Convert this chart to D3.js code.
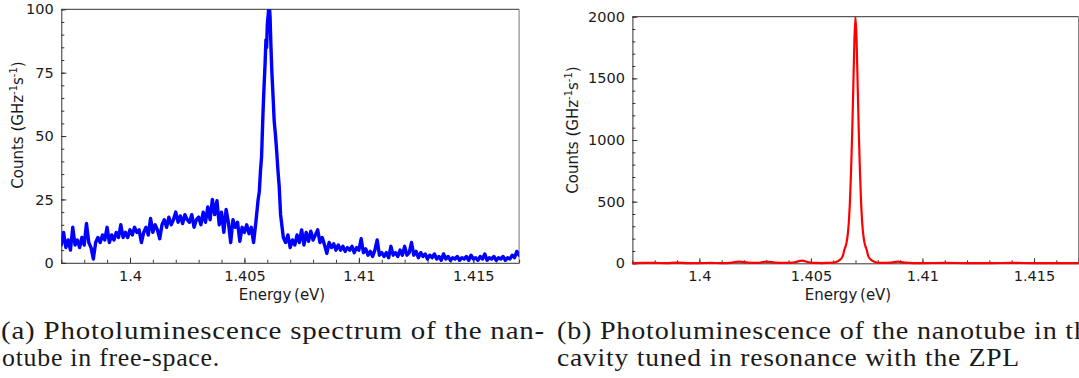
<!DOCTYPE html>
<html><head><meta charset="utf-8">
<script src="https://cdn.jsdelivr.net/npm/d3@7/dist/d3.min.js"></script>
<style>
html,body{margin:0;padding:0;background:#fff;}
svg{display:block;}
.tick text{font-family:"DejaVu Sans",sans-serif;font-size:14.5px;fill:#1a1a1a;}
.lbl{font-family:"DejaVu Sans",sans-serif;font-size:15px;fill:#1a1a1a;}
.cap{font-family:"Liberation Serif",serif;font-size:25px;fill:#1a1a1a;letter-spacing:0.7px;}
</style></head>
<body>
<svg id="chart" width="1079" height="378"></svg>
<script>
// ---------- data ----------
const xTicks = [1.4, 1.405, 1.41, 1.415];
const xTickLabels = ["1.4", "1.405", "1.41", "1.415"];
const freeSpaceYTicks = [0, 25, 50, 75, 100];
const cavityYTicks = [0, 500, 1000, 1500, 2000];

const freeSpaceEnergy = [
1.3970,1.3971,1.3972,1.3973,1.3974,1.3975,1.3976,1.3977,1.3978,1.3979,
1.3980,1.3981,1.3982,1.3983,1.3984,1.3985,1.3986,1.3987,1.3988,1.3989,
1.3990,1.3991,1.3992,1.3993,1.3994,1.3995,1.3996,1.3997,1.3998,1.3999,
1.4000,1.4001,1.4002,1.4003,1.4004,1.4005,1.4006,1.4007,1.4008,1.4009,
1.4010,1.4011,1.4012,1.4013,1.4014,1.4015,1.4016,1.4017,1.4018,1.4019,
1.4020,1.4021,1.4022,1.4023,1.4024,1.4025,1.4026,1.4027,1.4028,1.4029,
1.4030,1.4031,1.4032,1.4033,1.4034,1.4035,1.4036,1.4037,1.4038,1.4039,
1.4040,1.4041,1.4042,1.4043,1.4044,1.4045,1.4046,1.4047,1.4048,1.4049,
1.4050,1.4051,1.4052,1.4053,1.4054,1.4055,
1.4056,1.40565,1.4057,1.40575,1.4058,1.40582,1.40586,1.4059,1.40594,1.40597,
1.4060,1.40604,1.40608,1.40612,1.40616,1.4062,1.40626,1.4063,1.40636,1.40641,
1.40646,1.40652,1.40658,1.40662,1.40666,1.4067,
1.4068,1.4069,1.4070,1.4071,1.4072,1.4073,1.4074,1.4075,1.4076,1.4077,
1.4078,1.4079,1.4080,1.4081,1.4082,1.4083,1.4084,1.4085,1.4086,1.4087,
1.4088,1.4089,1.4090,1.4091,1.4092,1.4093,1.4094,1.4095,1.4096,1.4097,
1.4098,1.4099,1.4100,1.4101,1.4102,1.4103,1.4104,1.4105,1.4106,1.4107,
1.4108,1.4109,1.4110,1.4111,1.4112,1.4113,1.4114,1.4115,1.4116,1.4117,
1.4118,1.4119,1.4120,1.4121,1.4122,1.4123,1.4124,1.4125,1.4126,1.4127,
1.4128,1.4129,1.4130,1.4131,1.4132,1.4133,1.4134,1.4135,1.4136,1.4137,
1.4138,1.4139,1.4140,1.4141,1.4142,1.4143,1.4144,1.4145,1.4146,1.4147,
1.4148,1.4149,1.4150,1.4151,1.4152,1.4153,1.4154,1.4155,1.4156,1.4157,
1.4158,1.4159,1.4160,1.4161,1.4162,1.4163,1.4164,1.4165,1.4166,1.4167,
1.4168,1.4169,1.4170
];
const freeSpaceCounts = [
7,12,6,9,5,14,7,9,6,10,
7,15.5,8,6,1.5,8,10,8,11,9,
14,8,11,9,12,10,15,10,12,10,
13,11,14,12,13,8,12,14,11,17.5,
12,15,13,9.5,15,17,14,18,15,17,
20,16,18.5,15.5,19,17,16,19,14,17,
18,15,20,16,22,17,25,19,24.5,15,
20,12,21,16,8,17,14,16,8.5,14,
12,15,11.5,14,8,16,
25,28,36,42,56,61,70,78,88,85,
94,98,103,97,85,75,64,56,50,44,
37,30,19,16,13,10,
8,11,6,9,7,11,8,13,7,12,
8.5,12.5,9,11,13,8,10,7,3.7,8,
6,7.5,5,7,5,6.5,4.5,6,5,6.5,
4,6,5,9.5,4,5.5,3,4.5,2.5,5,
9,3,4,2.5,4,2,6.5,3,4,2.5,
5,3,6.5,3,4,8,3,4.5,2,4,
2.5,3.5,1.5,3,2,3.5,1.5,2.5,1,3.5,
1.5,2.5,1,2,1.5,2.5,1,2,1.5,2.5,
1,3,1.5,2,1,2.5,1.5,3.5,1,2,
1.5,2.5,1,2,1.5,2.5,1,2,1.5,3,
2,4.5,3
];

const cavityEnergy = [
1.3970,1.3980,1.3985,1.3990,1.3995,1.4000,1.4005,1.4010,1.4014,1.4018,
1.4022,1.4026,1.4030,1.4034,1.4038,1.4042,1.4046,1.4049,1.4052,1.4055,
1.4058,1.4060,1.4061,1.4062,1.4063,1.4064,1.40645,1.4065,1.40655,1.4066,
1.40665,1.4067,1.40675,1.4068,1.40685,1.4069,1.40695,1.4070,1.40705,1.4071,
1.40715,1.4072,1.40725,1.4073,1.40735,1.4074,1.40745,1.4075,1.40755,1.4076,
1.4077,1.4078,1.4079,1.4080,1.4082,1.4086,1.4089,1.4092,1.4096,1.4100,
1.4110,1.4120,1.4130,1.4140,1.4150,1.4160,1.4170
];
const cavityCounts = [
2,3,2,5,2,2,3,2,4,14,
5,3,13,5,3,6,22,8,3,2,
4,5,9,16,28,48,72,110,135,170,
230,330,500,740,1050,1420,1800,2000,1800,1420,
1050,740,500,330,230,170,135,110,72,48,
28,16,9,5,3,6,14,5,2,2,
3,2,2,3,2,2,2
];

// ---------- layout ----------
const svg = d3.select("#chart");
svg.append("rect").attr("width",1079).attr("height",378).attr("fill","#fff");

function panel(cfg){
  const x = d3.scaleLinear().domain([1.397, 1.417]).range([cfg.x0, cfg.x1]);
  const y = d3.scaleLinear().domain([0, cfg.yMax]).range([cfg.y0, cfg.y1]);
  const g = svg.append("g");
  const clipId = "clip" + cfg.id;
  svg.append("clipPath").attr("id", clipId).append("rect")
    .attr("x", cfg.x0).attr("y", cfg.y1).attr("width", cfg.x1 - cfg.x0).attr("height", cfg.y0 - cfg.y1 + 4);

  g.append("line").attr("x1",cfg.x0).attr("x2",cfg.x1).attr("y1",cfg.y1).attr("y2",cfg.y1)
    .attr("stroke","#333").attr("stroke-width",1);
  g.append("line").attr("x1",cfg.x1).attr("x2",cfg.x1).attr("y1",cfg.y1).attr("y2",cfg.y0)
    .attr("stroke","#777").attr("stroke-width",1);

  const xMinor = d3.range(1.397, 1.4171, 0.001);
  g.append("g").attr("transform",`translate(0,${cfg.y0})`)
    .call(d3.axisBottom(x).tickValues(xMinor).tickSize(-3).tickSizeOuter(0).tickFormat(""))
    .call(a=>a.select(".domain").remove()).call(a=>a.selectAll("line").attr("stroke","#333"));
  const yMinor = d3.range(0, cfg.yMax + 1e-9, cfg.yMinorStep);
  g.append("g").attr("transform",`translate(${cfg.x0},0)`)
    .call(d3.axisLeft(y).tickValues(yMinor).tickSize(-3).tickSizeOuter(0).tickFormat(""))
    .call(a=>a.select(".domain").remove()).call(a=>a.selectAll("line").attr("stroke","#333"));

  g.append("g").attr("transform",`translate(0,${cfg.y0})`)
    .call(d3.axisBottom(x).tickValues(xTicks).tickFormat((d,i)=>xTickLabels[i]).tickSize(-5).tickSizeOuter(0).tickPadding(7.5))
    .call(a=>a.select(".domain").attr("stroke","#333"))
    .call(a=>a.selectAll("line").attr("stroke","#333"));
  g.append("g").attr("transform",`translate(${cfg.x0},0)`)
    .call(d3.axisLeft(y).tickValues(cfg.yTicks).tickFormat(d3.format("d")).tickSize(-5).tickSizeOuter(0).tickPadding(7.5))
    .call(a=>a.select(".domain").attr("stroke","#333"))
    .call(a=>a.selectAll("line").attr("stroke","#333"));

  const data = cfg.energy.map((e,i)=>[e, cfg.counts[i]]);
  g.append("path").datum(data)
    .attr("clip-path",`url(#${clipId})`)
    .attr("fill","none").attr("stroke",cfg.color).attr("stroke-width",cfg.lw)
    .attr("stroke-linejoin","round").attr("stroke-linecap","round")
    .attr("d", d3.line().x(d=>x(d[0])).y(d=>y(d[1])).curve(cfg.curve));

  svg.append("text").attr("class","lbl").attr("x",cfg.xLabelX).attr("y",299.5)
    .attr("text-anchor","middle").attr("word-spacing","-2").text("Energy (eV)");
  const yl = svg.append("text").attr("class","lbl")
    .attr("transform",`translate(${cfg.yLabelX},${cfg.yLabelY}) rotate(-90)`)
    .attr("text-anchor","middle");
  yl.append("tspan").text("Counts (GHz");
  yl.append("tspan").attr("font-size","10px").attr("dy","-6").text("-1");
  yl.append("tspan").attr("dy","6").text("s");
  yl.append("tspan").attr("font-size","10px").attr("dy","-6").text("-1");
  yl.append("tspan").attr("dy","6").text(")");
}

panel({id:"a", x0:61.3, x1:519.1, y0:262.8, y1:9.3, yMax:100, yMinorStep:5, yTicks:freeSpaceYTicks,
  energy:freeSpaceEnergy, counts:freeSpaceCounts, color:"#0000ff", lw:3.4, curve:d3.curveLinear,
  xLabelX:282, yLabelX:23, yLabelY:125});
panel({id:"b", x0:632.4, x1:1078.6, y0:263.3, y1:16.7, yMax:2000, yMinorStep:100, yTicks:cavityYTicks,
  energy:cavityEnergy, counts:cavityCounts, color:"#ff0000", lw:2.2, curve:d3.curveMonotoneX,
  xLabelX:848, yLabelX:578, yLabelY:130});

const captions = [
  {x:1, y:339, w:544, t:"(a) Photoluminescence spectrum of the nan-"},
  {x:2, y:366, w:218, t:"otube in free-space."},
  {x:557, y:339, w:545, t:"(b) Photoluminescence of the nanotube in the"},
  {x:557, y:366, w:463, t:"cavity tuned in resonance with the ZPL"}
];
captions.forEach(c=>{
  svg.append("text").attr("class","cap").attr("x",c.x).attr("y",c.y)
    .attr("textLength",c.w).attr("lengthAdjust","spacingAndGlyphs").text(c.t);
});
</script>
</body></html>
